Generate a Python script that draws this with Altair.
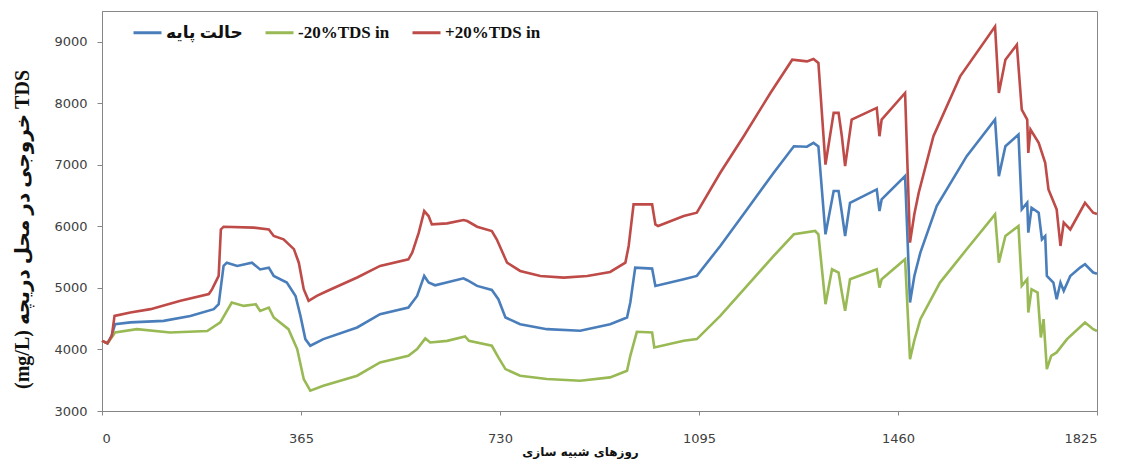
import altair as alt
import pandas as pd

SERIES = ["حالت پایه", "-20%TDS in", "+20%TDS in"]
COLORS = ["#4A7EBB", "#98B954", "#BE4B48"]

base_days = [0, 10, 18, 24, 52, 113, 162, 205, 214, 223, 229, 248, 275, 290, 306, 315, 339, 355, 364, 373,
             382, 406, 468, 510, 562, 578, 591, 599, 611, 663, 670, 688, 715, 727, 740, 767, 816, 877, 932, 963,
             969, 978, 1009, 1015, 1067, 1091, 1134, 1183, 1232, 1269, 1293, 1305, 1314, 1327, 1342, 1351, 1357,
             1363, 1372, 1421, 1426, 1430, 1473, 1482, 1490, 1501, 1531, 1586, 1638, 1645, 1657, 1681, 1687, 1697,
             1699, 1705, 1718, 1724, 1730, 1733, 1745, 1751, 1758, 1764, 1776, 1794, 1803, 1818, 1825]
base_vals = [4140, 4100, 4230, 4410, 4440, 4465, 4545, 4655, 4735, 5357, 5410, 5357, 5410, 5300, 5330, 5195, 5087,
             4870, 4546, 4168, 4060, 4168, 4357, 4573, 4682, 4870, 5195, 5087, 5043, 5157, 5125, 5033, 4968, 4817,
             4520, 4411, 4330, 4303, 4411, 4520, 4763, 5330, 5314, 5033, 5141, 5195, 5682, 6276, 6871, 7303, 7295,
             7357, 7300, 5871, 6574, 6574, 6222, 5844, 6384, 6601, 6249, 6438, 6817, 4763, 5195, 5574, 6330, 7141,
             7736, 6817, 7303, 7492, 6276, 6384, 5898, 6303, 6222, 5790, 5844, 5195, 5087, 4817, 5087, 4952, 5195,
             5330, 5384, 5250, 5230]

minus_days = [0, 10, 18, 24, 64, 125, 193, 217, 238, 260, 282, 290, 306, 315, 342, 358, 370, 382, 406, 468, 510,
              562, 578, 593, 602, 633, 666, 673, 715, 727, 740, 767, 816, 877, 932, 963, 969, 981, 1009, 1013,
              1067, 1091, 1134, 1183, 1232, 1269, 1308, 1314, 1327, 1339, 1351, 1357, 1363, 1372, 1421, 1426,
              1430, 1473, 1482, 1490, 1501, 1537, 1586, 1638, 1645, 1657, 1681, 1687, 1697, 1699, 1705, 1716,
              1722, 1727, 1733, 1741, 1751, 1770, 1803, 1818, 1825]
minus_vals = [4140, 4100, 4200, 4276, 4330, 4276, 4300, 4440, 4763, 4708, 4735, 4627, 4680, 4520, 4330, 4006,
              3519, 3330, 3410, 3573, 3790, 3897, 4006, 4179, 4114, 4140, 4211, 4140, 4060, 3871, 3681, 3573,
              3519, 3492, 3546, 3654, 3897, 4287, 4276, 4033, 4141, 4168, 4546, 5033, 5520, 5871, 5925, 5871,
              4736, 5303, 5249, 4925, 4627, 5141, 5303, 5006, 5141, 5465, 3843, 4150, 4492, 5087, 5628, 6195,
              5412, 5844, 6006, 5033, 5141, 4601, 4979, 4925, 4195, 4492, 3681, 3897, 3952, 4168, 4439, 4330,
              4300]

plus_days = [0, 10, 18, 23, 52, 89, 144, 196, 202, 214, 218, 223, 278, 306, 315, 333, 352, 361, 370, 379, 394,
             413, 468, 510, 562, 569, 581, 591, 599, 605, 633, 663, 670, 688, 715, 724, 743, 767, 804, 847, 890,
             932, 960, 966, 975, 1009, 1015, 1020, 1067, 1091, 1134, 1177, 1226, 1266, 1293, 1305, 1314, 1327,
             1342, 1351, 1357, 1363, 1369, 1375, 1421, 1426, 1430, 1473, 1482, 1490, 1498, 1525, 1574, 1638,
             1645, 1657, 1678, 1687, 1697, 1699, 1703, 1718, 1730, 1736, 1751, 1758, 1764, 1776, 1803, 1818,
             1825]
plus_vals = [4140, 4100, 4220, 4546, 4600, 4655, 4790, 4900, 4980, 5195, 5950, 5995, 5980, 5950, 5845, 5790,
             5630, 5410, 4980, 4790, 4870, 4950, 5170, 5357, 5465, 5573, 5898, 6249, 6168, 6033, 6049, 6103,
             6087, 5995, 5925, 5790, 5410, 5276, 5195, 5168, 5195, 5260, 5412, 5682, 6357, 6357, 6033, 6006,
             6168, 6222, 6871, 7465, 8168, 8708, 8681, 8720, 8655, 7005, 7845, 7845, 7465, 6979, 7357, 7736,
             7925, 7465, 7736, 8168, 5736, 6200, 6546, 7465, 8438, 9248, 8168, 8708, 8951, 7898, 7736, 7195,
             7574, 7357, 7033, 6601, 6276, 5682, 6060, 5950, 6384, 6222, 6200]

x_ticks = [0, 365, 730, 1095, 1460, 1825]
y_ticks = [3000, 4000, 5000, 6000, 7000, 8000, 9000]

rows = []
for name, days, vals in [(SERIES[0], base_days, base_vals),
                         (SERIES[1], minus_days, minus_vals),
                         (SERIES[2], plus_days, plus_vals)]:
    for d, v in zip(days, vals):
        rows.append({"day": d, "tds": v, "series": name})
df = pd.DataFrame(rows)

y_title = "(mg/L) خروجی در محل دریچه TDS"
x_title = "روزهای شبیه سازی"

chart = alt.Chart(df).mark_line(strokeWidth=2.6).encode(
    x=alt.X("day:Q",
            scale=alt.Scale(domain=[0, 1825], nice=False, zero=False),
            axis=alt.Axis(values=x_ticks, format="d", title=x_title, grid=False, labelFont="DejaVu Sans",
                          labelFontSize=13, labelColor="#404040", labelPadding=17, tickSize=4,
                          tickColor="#868686", domainColor="#868686",
                          titleFont="DejaVu Sans", titleFontWeight="bold", titleFontSize=12,
                          titleColor="#111111", titleX=478, titleY=40, titleAlign="center",
                          titleBaseline="middle")),
    y=alt.Y("tds:Q",
            scale=alt.Scale(domain=[3000, 9500], nice=False, zero=False),
            axis=alt.Axis(values=y_ticks, format="d", title=y_title, grid=False, labelFont="DejaVu Sans",
                          labelFontSize=13, labelColor="#404040", labelPadding=10, tickSize=5,
                          tickColor="#868686", domainColor="#868686",
                          titleFont="Liberation Serif, DejaVu Sans", titleFontWeight="bold",
                          titleFontSize=20, titleColor="#111111", titleX=-80, titleY=218,
                          titleAlign="center", titleBaseline="middle", titleAngle=270)),
    color=alt.Color("series:N",
                    scale=alt.Scale(domain=SERIES, range=COLORS),
                    legend=alt.Legend(title=None, orient="none", legendX=30, legendY=6,
                                      direction="horizontal", symbolType="stroke",
                                      symbolSize=784, symbolStrokeWidth=3,
                                      labelFont="Liberation Serif, DejaVu Sans",
                                      labelFontWeight="bold", labelFontSize=17,
                                      labelColor="#111111", columnPadding=16, labelOffset=3)),
).properties(
    width=995, height=400,
    autosize=alt.AutoSizeParams(type="none"),
    padding={"left": 94, "top": 3, "right": 21, "bottom": 48},
).configure_view(stroke="#888888", strokeWidth=1)

chart.save("out.html", embed_options={"renderer": "svg", "actions": False})
